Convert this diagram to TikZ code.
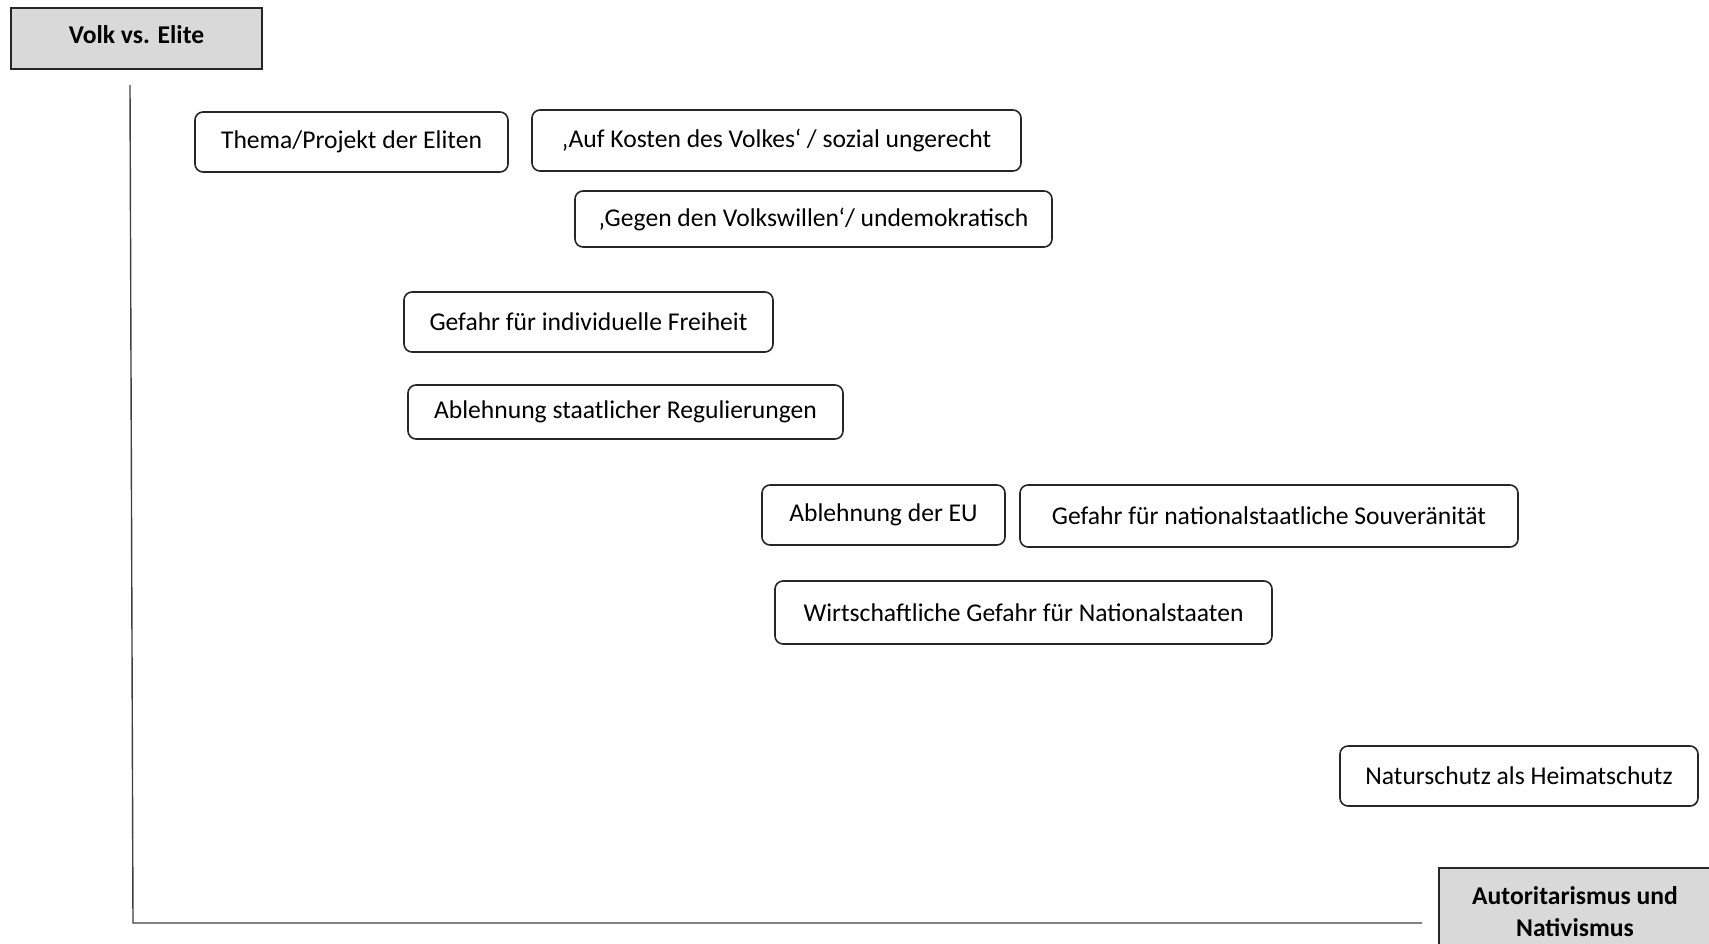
\documentclass[tikz,border=0pt]{standalone}
\usepackage{fontspec}
\setmainfont{Carlito}
\begin{document}
\begin{tikzpicture}[x=0.5pt,y=-0.5pt,
  item/.style={draw=black!85, rounded corners=4pt, line width=0.8pt, inner sep=0pt,
    font=\fontsize{12.8}{14}\selectfont},
  headbox/.style={draw=black!85, fill=black!15, line width=0.8pt, inner sep=0pt, align=center,
    font=\fontsize{12.8}{16}\selectfont\bfseries},
  axis/.style={draw=black!75, line width=0.7pt}]
\useasboundingbox (0,0) rectangle (1709,943);
\node[headbox, minimum width=125.5pt, minimum height=30.5pt] (volk) at (136.5,38.5) {\raisebox{3.5pt}{Volk vs. Elite}};
\node[headbox, minimum width=136pt, minimum height=44pt] (auto) at (1575,912) {Autoritarismus und\\Nativismus};
\node[item, minimum width=156.5pt, minimum height=30pt] (thema) at (351.5,142) {Thema/Projekt der Eliten};
\node[item, minimum width=244.5pt, minimum height=30.5pt] (kosten) at (776.5,140.5) {‚Auf Kosten des Volkes‘ / sozial ungerecht};
\node[item, minimum width=238.5pt, minimum height=28pt] (gegen) at (813.5,219) {‚Gegen den Volkswillen‘/ undemokratisch};
\node[item, minimum width=184.5pt, minimum height=30pt] (freiheit) at (588.5,322) {Gefahr für individuelle Freiheit};
\node[item, minimum width=217.5pt, minimum height=27pt] (regul) at (625.5,412) {Ablehnung staatlicher Regulierungen};
\node[item, minimum width=121.5pt, minimum height=30pt] (eu) at (883.5,515) {Ablehnung der EU};
\node[item, minimum width=249pt, minimum height=31pt] (souv) at (1269,516) {Gefahr für nationalstaatliche Souveränität};
\node[item, minimum width=248.5pt, minimum height=31.5pt] (wirt) at (1023.5,612.5) {Wirtschaftliche Gefahr für Nationalstaaten};
\node[item, minimum width=179pt, minimum height=30pt] (natur) at (1519,776) {Naturschutz als Heimatschutz};
\coordinate (ytop) at (130,85);
\coordinate (origin) at (133,923);
\coordinate (xend) at (1422,923);
\draw[axis] (ytop) -- (origin) -- (xend);
\end{tikzpicture}
\end{document}
